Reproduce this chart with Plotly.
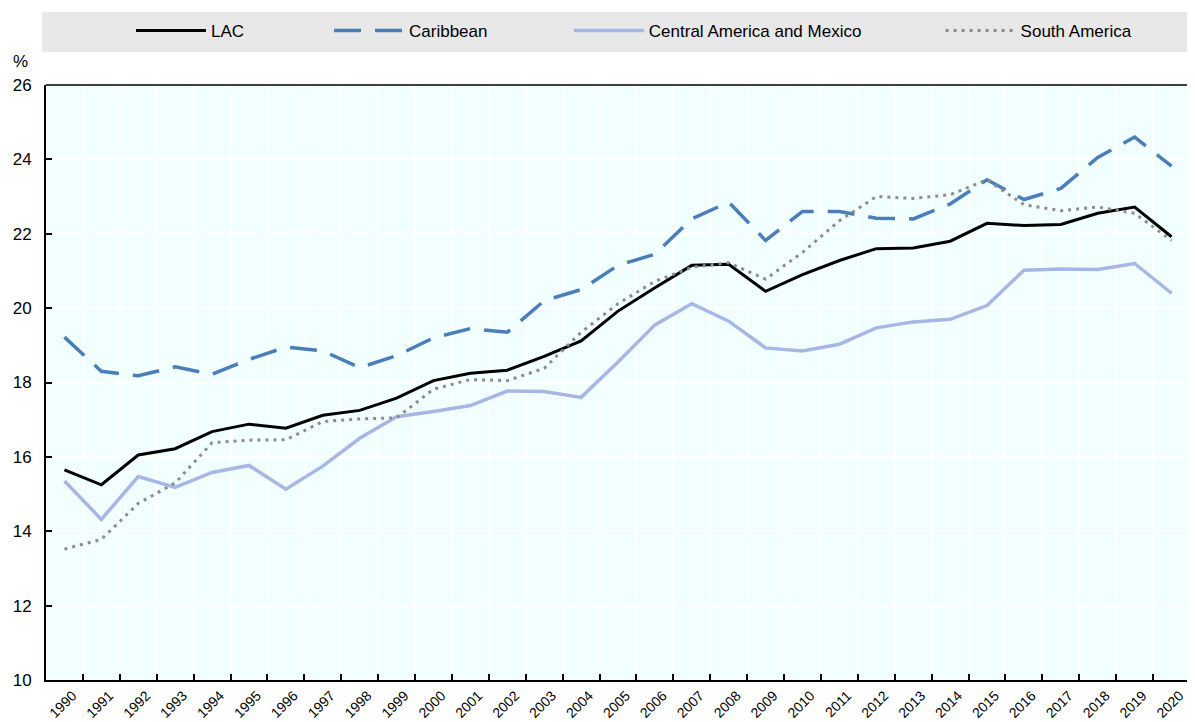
import plotly.graph_objects as go

years = [str(y) for y in range(1990, 2021)]

lac = [15.65, 15.25, 16.05, 16.22, 16.68, 16.88, 16.77, 17.12, 17.25, 17.58,
       18.05, 18.25, 18.33, 18.70, 19.12, 19.92, 20.55, 21.15, 21.18, 20.45,
       20.90, 21.28, 21.60, 21.62, 21.80, 22.28, 22.22, 22.25, 22.55, 22.72, 21.92]

caribbean = [19.22, 18.30, 18.18, 18.42, 18.22, 18.62, 18.95, 18.85, 18.40, 18.72,
             19.20, 19.45, 19.35, 20.20, 20.50, 21.15, 21.45, 22.40, 22.85, 21.82,
             22.60, 22.60, 22.42, 22.40, 22.80, 23.45, 22.92, 23.22, 24.05, 24.60, 23.82]

cam = [15.35, 14.32, 15.47, 15.18, 15.58, 15.77, 15.13, 15.75, 16.50, 17.08,
       17.22, 17.38, 17.77, 17.76, 17.60, 18.55, 19.55, 20.12, 19.65, 18.93,
       18.85, 19.03, 19.47, 19.63, 19.70, 20.07, 21.02, 21.05, 21.04, 21.20, 20.40]

south = [13.52, 13.78, 14.75, 15.30, 16.38, 16.45, 16.46, 16.95, 17.02, 17.05,
         17.82, 18.08, 18.05, 18.38, 19.35, 20.12, 20.72, 21.10, 21.22, 20.78,
         21.50, 22.35, 23.00, 22.95, 23.05, 23.45, 22.78, 22.62, 22.72, 22.55, 21.82]

names = ["LAC", "Caribbean", "Central America and Mexico", "South America"]
series = [lac, caribbean, cam, south]
colors = ["#000000", "#4A7EBB", "#A7B7E5", "#8C8C8C"]
dashes = ["solid", "27px,14px", "solid", "3px,5px"]
widths = [3, 3.5, 3.5, 3]
legend_ids = ["legend", "legend2", "legend3", "legend4"]
legend_x = [0.0743, 0.2474, 0.457, 0.782]

FONT = "Liberation Sans, Arial, sans-serif"

fig = go.Figure()
for name, ys, c, d, w, lg in zip(names, series, colors, dashes, widths, legend_ids):
    fig.add_trace(go.Scatter(
        x=years, y=ys, name=name, mode="lines",
        line=dict(color=c, dash=d, width=w),
        legend=lg,
    ))

layout_legends = {}
for lg, lx in zip(legend_ids, legend_x):
    layout_legends[lg] = dict(
        x=lx, y=1.0908, xref="paper", yref="paper",
        xanchor="left", yanchor="middle",
        orientation="h", bgcolor="rgba(0,0,0,0)",
        font=dict(family=FONT, size=17, color="#000000"),
        itemwidth=70, borderwidth=0,
    )

fig.update_layout(
    width=1187, height=714,
    margin=dict(l=38, r=5, t=77, b=42, autoexpand=False),
    paper_bgcolor="white",
    plot_bgcolor="#F2FFFF",
    showlegend=True,
    font=dict(family=FONT, size=16, color="#000000"),
    **layout_legends,
)

fig.update_xaxes(
    type="category",
    tickangle=-45,
    tickson="boundaries",
    ticks="inside", ticklen=6, tickwidth=2, tickcolor="#000000",
    showline=True, linecolor="#000000", linewidth=2,
    showgrid=True, gridcolor="#FFFFFF", gridwidth=1.5,
    tickfont=dict(family=FONT, size=14),
    ticklabelshift=8,
    range=[-0.5, 30.5],
)
fig.update_yaxes(
    range=[10, 26], dtick=2, tick0=10,
    ticks="inside", ticklen=6, tickwidth=2, tickcolor="#000000",
    showline=True, linecolor="#000000", linewidth=2,
    showgrid=True, gridcolor="#FFFFFF", gridwidth=1.5,
    zeroline=False,
    ticklabelstandoff=9,
    tickfont=dict(family=FONT, size=17),
)

# legend background band
fig.add_shape(type="rect", xref="paper", yref="paper",
              x0=-0.0035, x1=1.005, y0=1.0555, y1=1.1227,
              fillcolor="#E8E8E8", line=dict(width=0), layer="below")
# top frame line
fig.add_shape(type="line", xref="paper", yref="paper",
              x0=0, x1=1, y0=1, y1=1,
              line=dict(color="#404040", width=2))

fig.add_annotation(text="%", xref="paper", yref="paper",
                   x=-0.0227, y=1.0387, xanchor="center", yanchor="middle",
                   showarrow=False, font=dict(family=FONT, size=17))

fig.write_html("out.html")
